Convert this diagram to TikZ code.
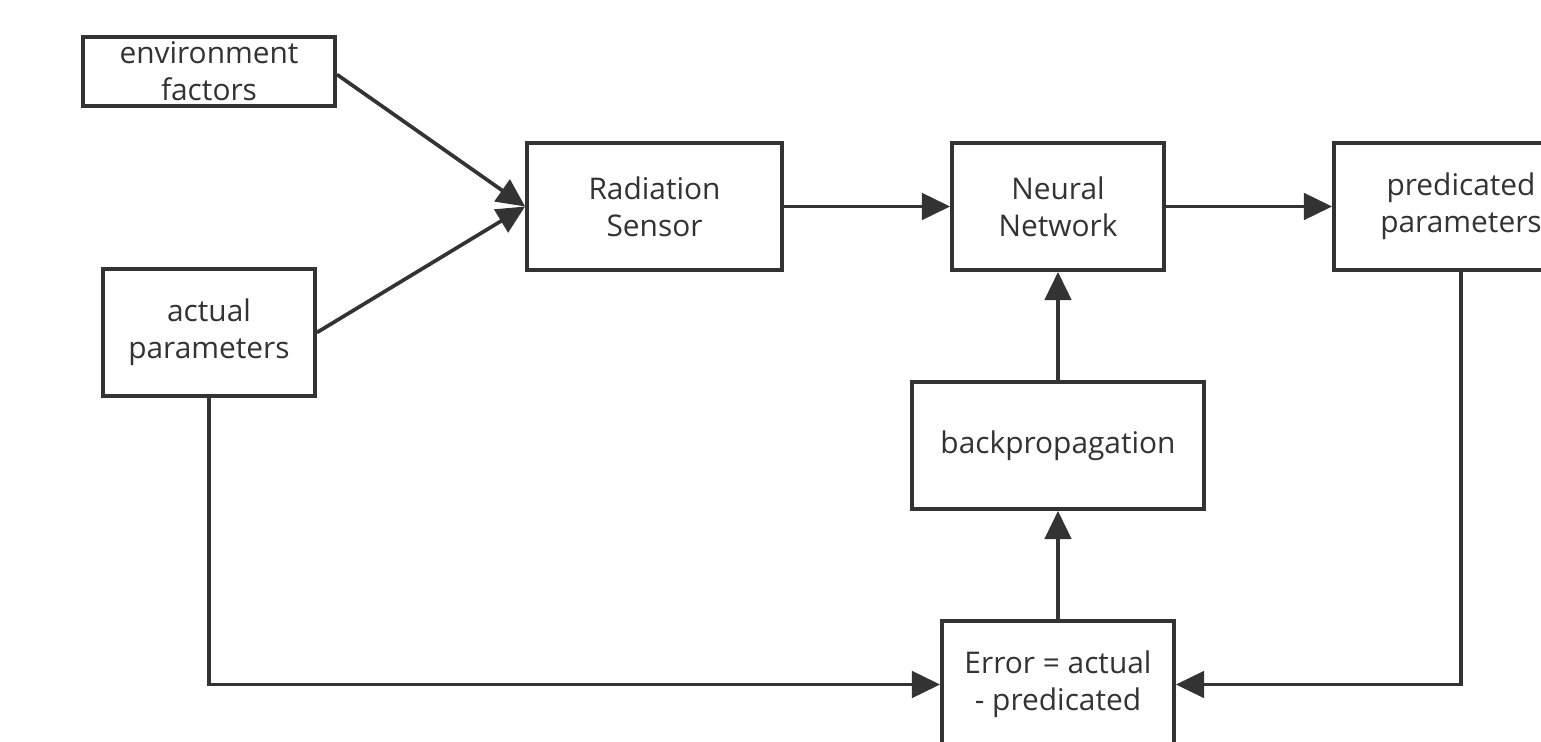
\documentclass[tikz,border=0pt]{standalone}
\usepackage{fontspec}
\setmainfont{Open Sans}
\usepackage{tikz}
\usetikzlibrary{arrows.meta, positioning}
\definecolor{ink}{HTML}{333333}
\tikzstyle{block}=[rectangle, draw=ink, line width=2.2pt, fill=white, text=ink, align=center, inner sep=0pt, font=\fontsize{17}{21}\selectfont]
\tikzstyle{flow}=[draw=ink, line width=2.1pt, -{Triangle[length=16pt, width=15pt]}]

\begin{document}
\begin{tikzpicture}[x=0.02cm, y=-0.02cm]
    \useasboundingbox (0,0) rectangle (1541,742);
    \node[block, minimum width=5.04cm, minimum height=1.38cm] (env) at (209,71.5) {environment\\factors};
    \node[block, minimum width=4.24cm, minimum height=2.54cm] (act) at (209,332.5) {actual\\parameters};
    \node[block, minimum width=5.1cm, minimum height=2.54cm] (rad) at (654.5,206.5) {Radiation\\Sensor};
    \node[block, minimum width=4.24cm, minimum height=2.54cm] (nn) at (1058,206.5) {Neural\\Network};
    \node[block, minimum width=5.08cm, minimum height=2.54cm] (pred) at (1461,206.5) {predicated\\parameters};
    \node[block, minimum width=5.84cm, minimum height=2.54cm] (bp) at (1058,445.5) {backpropagation};
    \node[block, minimum width=4.64cm, minimum height=2.54cm] (err) at (1058,684.5) {Error = actual\\ - predicated};

    \draw[flow] (env.east) ++(0,3) -- (rad.west);
    \draw[flow] (act.east) -- (rad.west);
    \draw[flow] (rad) -- (nn);
    \draw[flow] (nn) -- (pred);
    \draw[flow] (bp) -- (nn);
    \draw[flow] (err) -- (bp);
    \draw[flow] (act.south) |- (err.west);
    \draw[flow] (pred.south) |- (err.east);
\end{tikzpicture}
\end{document}
